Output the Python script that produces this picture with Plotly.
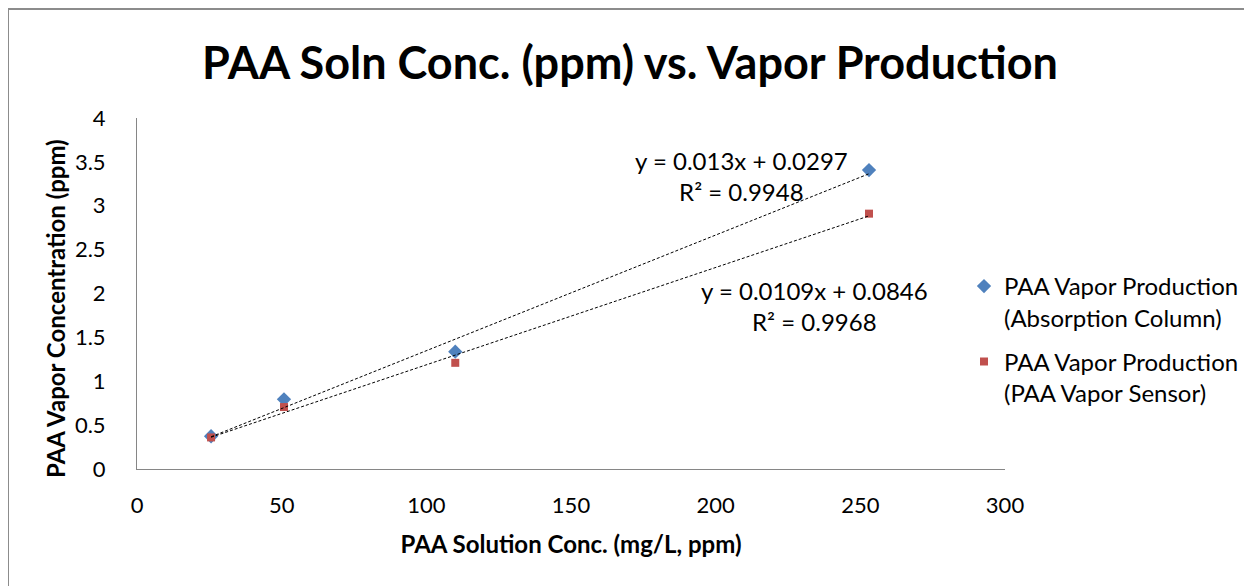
import numpy as np
import plotly.graph_objects as go

# ---- data ----
conc = [25.6, 50.8, 110.0, 253.0]
vapor_absorption = [0.373, 0.794, 1.337, 3.407]
vapor_sensor = [0.36, 0.706, 1.21, 2.91]

series_names = ["PAA Vapor Production<br>(Absorption Column)",
                "PAA Vapor Production<br>(PAA Vapor Sensor)"]
series_colors = ["#4F81BD", "#C0504D"]
series_symbols = ["diamond", "square"]

eq_labels = ["y = 0.013x + 0.0297<br>R² = 0.9948",
             "y = 0.0109x + 0.0846<br>R² = 0.9968"]
eq_pos_x = [209, 234]
eq_pos_y = [3.34, 1.86]

x_ticks = [0, 50, 100, 150, 200, 250, 300]
y_ticks = [0, 0.5, 1, 1.5, 2, 2.5, 3, 3.5, 4]

FONT = "Lato"

# page offset of the plotly div (browser body margin)
OFF = 8
PAGE_W, PAGE_H = 1252, 586
W, H = PAGE_W - OFF, PAGE_H - OFF
# plot area in page pixels
PL, PR, PT, PB = 137, 1005, 118, 469
L, T = PL - OFF, PT - OFF
R, B = W - (PR - OFF), H - (PB - OFF)
pw, ph = PR - PL, PB - PT


def px2paper_x(px):
    return (px - PL) / pw


def px2paper_y(py):
    return (PB - py) / ph


fig = go.Figure()

all_y = [vapor_absorption, vapor_sensor]
for i, ys in enumerate(all_y):
    fig.add_trace(go.Scatter(
        x=conc, y=ys, mode="markers", name=series_names[i],
        legendgroup=f"g{i}",
        marker=dict(symbol=series_symbols[i], color=series_colors[i],
                    size=11 if i == 0 else 8, line=dict(width=0)),
    ))

for i, ys in enumerate(all_y):
    slope, icpt = np.polyfit(conc, ys, 1)
    xs = [min(conc), max(conc)]
    fig.add_trace(go.Scatter(
        x=xs, y=[slope * v + icpt for v in xs], mode="lines",
        line=dict(color="black", width=1, dash="3px,2px"),
        showlegend=False, hoverinfo="skip",
    ))

for i in range(2):
    fig.add_annotation(x=eq_pos_x[i], y=eq_pos_y[i], xref="x", yref="y",
                       text=eq_labels[i], showarrow=False,
                       font=dict(family=FONT, size=24, color="black"),
                       align="center")

# y-axis title (placed as in the reference, slightly below the axis centre)
fig.add_annotation(x=px2paper_x(55), y=px2paper_y(309), xref="paper", yref="paper",
                   text="<b>PAA Vapor Concentration (ppm)</b>", textangle=-90,
                   showarrow=False, xanchor="center", yanchor="middle",
                   font=dict(family=FONT, size=24, color="black"))

# outer border of the chart area
fig.add_shape(type="rect", xref="paper", yref="paper",
              x0=px2paper_x(8), x1=px2paper_x(1300),
              y0=px2paper_y(640), y1=px2paper_y(9),
              line=dict(color="#8C8C8C", width=2), layer="below")

fig.update_layout(
    width=W, height=H,
    margin=dict(l=L, r=R, t=T, b=B, autoexpand=False),
    paper_bgcolor="white", plot_bgcolor="white",
    font=dict(family=FONT, color="black"),
    title=dict(text="<b>PAA Soln Conc. (ppm) vs. Vapor Production</b>",
               x=(630 - OFF) / W, xanchor="center",
               y=1 - (63 - OFF) / H, yanchor="middle",
               font=dict(family=FONT, size=45, color="black")),
    showlegend=True,
    legend=dict(x=px2paper_x(964), xanchor="left", y=px2paper_y(264), yanchor="top",
                font=dict(family=FONT, size=24, color="black"),
                traceorder="grouped", tracegroupgap=10, valign="top",
                bgcolor="rgba(0,0,0,0)"),
)

fig.update_xaxes(range=[0, 300], tickvals=x_ticks, showgrid=False, zeroline=False,
                 showline=True, linecolor="#868686", linewidth=1,
                 ticks="", ticklabelstandoff=17,
                 tickfont=dict(family=FONT, size=22, color="black"),
                 title=dict(text="<b>PAA Solution Conc. (mg/L, ppm)</b>",
                            font=dict(family=FONT, size=24, color="black"),
                            standoff=18))
fig.update_yaxes(range=[0, 4], tickvals=y_ticks, showgrid=False, zeroline=False,
                 showline=True, linecolor="#868686", linewidth=1,
                 ticks="", ticklabelstandoff=26,
                 tickfont=dict(family=FONT, size=22, color="black"))

fig.write_html("out.html")
